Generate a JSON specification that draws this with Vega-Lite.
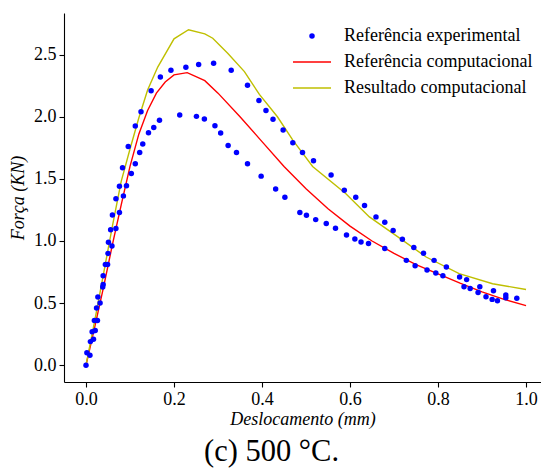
{
  "$schema": "https://vega.github.io/schema/vega-lite/v6.json",
  "width": 477,
  "height": 369,
  "autosize": {"type": "none"},
  "padding": {"left": 64, "top": 13, "right": 0, "bottom": 91},
  "background": "white",
  "config": {
    "view": {"stroke": null},
    "font": "'Liberation Serif', 'Times New Roman', Times, serif",
    "axis": {
      "grid": false,
      "domainColor": "black",
      "domainWidth": 1.1,
      "tickColor": "black",
      "tickWidth": 1.1,
      "tickSize": 5,
      "labelFont": "'Liberation Serif', 'Times New Roman', Times, serif",
      "labelFontSize": 18,
      "labelColor": "black",
      "labelPadding": 3,
      "titleFont": "'Liberation Serif', 'Times New Roman', Times, serif",
      "titleFontSize": 18,
      "titleFontStyle": "italic",
      "titleFontWeight": "normal",
      "titleColor": "black"
    }
  },
  "title": {
    "text": "(c) 500 °C.",
    "orient": "bottom",
    "font": "'Liberation Serif', 'Times New Roman', Times, serif",
    "fontSize": 30.5,
    "fontWeight": "normal",
    "color": "black",
    "offset": 9,
    "dx": -31
  },
  "data": {
    "values": [
      {"serie": "Referência experimental", "d": 0.000, "f": 0.00},
      {"serie": "Referência experimental", "d": 0.002, "f": 0.10},
      {"serie": "Referência experimental", "d": 0.009, "f": 0.08},
      {"serie": "Referência experimental", "d": 0.010, "f": 0.19},
      {"serie": "Referência experimental", "d": 0.017, "f": 0.21},
      {"serie": "Referência experimental", "d": 0.014, "f": 0.27},
      {"serie": "Referência experimental", "d": 0.021, "f": 0.28},
      {"serie": "Referência experimental", "d": 0.019, "f": 0.36},
      {"serie": "Referência experimental", "d": 0.026, "f": 0.36},
      {"serie": "Referência experimental", "d": 0.024, "f": 0.46},
      {"serie": "Referência experimental", "d": 0.032, "f": 0.50},
      {"serie": "Referência experimental", "d": 0.027, "f": 0.55},
      {"serie": "Referência experimental", "d": 0.038, "f": 0.63},
      {"serie": "Referência experimental", "d": 0.039, "f": 0.65},
      {"serie": "Referência experimental", "d": 0.039, "f": 0.72},
      {"serie": "Referência experimental", "d": 0.044, "f": 0.81},
      {"serie": "Referência experimental", "d": 0.049, "f": 0.81},
      {"serie": "Referência experimental", "d": 0.050, "f": 0.90},
      {"serie": "Referência experimental", "d": 0.051, "f": 0.99},
      {"serie": "Referência experimental", "d": 0.059, "f": 0.96},
      {"serie": "Referência experimental", "d": 0.056, "f": 1.09},
      {"serie": "Referência experimental", "d": 0.068, "f": 1.10},
      {"serie": "Referência experimental", "d": 0.060, "f": 1.21},
      {"serie": "Referência experimental", "d": 0.068, "f": 1.34},
      {"serie": "Referência experimental", "d": 0.076, "f": 1.44},
      {"serie": "Referência experimental", "d": 0.083, "f": 1.59},
      {"serie": "Referência experimental", "d": 0.096, "f": 1.76},
      {"serie": "Referência experimental", "d": 0.112, "f": 1.925},
      {"serie": "Referência experimental", "d": 0.125, "f": 2.04},
      {"serie": "Referência experimental", "d": 0.148, "f": 2.21},
      {"serie": "Referência experimental", "d": 0.169, "f": 2.32},
      {"serie": "Referência experimental", "d": 0.193, "f": 2.374},
      {"serie": "Referência experimental", "d": 0.227, "f": 2.398},
      {"serie": "Referência experimental", "d": 0.256, "f": 2.42},
      {"serie": "Referência experimental", "d": 0.290, "f": 2.43},
      {"serie": "Referência experimental", "d": 0.330, "f": 2.374},
      {"serie": "Referência experimental", "d": 0.367, "f": 2.253},
      {"serie": "Referência experimental", "d": 0.393, "f": 2.13},
      {"serie": "Referência experimental", "d": 0.409, "f": 2.05},
      {"serie": "Referência experimental", "d": 0.425, "f": 1.98},
      {"serie": "Referência experimental", "d": 0.448, "f": 1.893},
      {"serie": "Referência experimental", "d": 0.470, "f": 1.79},
      {"serie": "Referência experimental", "d": 0.492, "f": 1.713},
      {"serie": "Referência experimental", "d": 0.517, "f": 1.645},
      {"serie": "Referência experimental", "d": 0.557, "f": 1.532},
      {"serie": "Referência experimental", "d": 0.587, "f": 1.409},
      {"serie": "Referência experimental", "d": 0.613, "f": 1.352},
      {"serie": "Referência experimental", "d": 0.633, "f": 1.285},
      {"serie": "Referência experimental", "d": 0.659, "f": 1.194},
      {"serie": "Referência experimental", "d": 0.679, "f": 1.151},
      {"serie": "Referência experimental", "d": 0.698, "f": 1.084},
      {"serie": "Referência experimental", "d": 0.719, "f": 1.014},
      {"serie": "Referência experimental", "d": 0.745, "f": 0.947},
      {"serie": "Referência experimental", "d": 0.767, "f": 0.901},
      {"serie": "Referência experimental", "d": 0.791, "f": 0.844},
      {"serie": "Referência experimental", "d": 0.819, "f": 0.790},
      {"serie": "Referência experimental", "d": 0.849, "f": 0.710},
      {"serie": "Referência experimental", "d": 0.865, "f": 0.689},
      {"serie": "Referência experimental", "d": 0.895, "f": 0.632},
      {"serie": "Referência experimental", "d": 0.926, "f": 0.600},
      {"serie": "Referência experimental", "d": 0.954, "f": 0.565},
      {"serie": "Referência experimental", "d": 0.076, "f": 1.229},
      {"serie": "Referência experimental", "d": 0.085, "f": 1.363},
      {"serie": "Referência experimental", "d": 0.092, "f": 1.444},
      {"serie": "Referência experimental", "d": 0.103, "f": 1.543},
      {"serie": "Referência experimental", "d": 0.112, "f": 1.621},
      {"serie": "Referência experimental", "d": 0.122, "f": 1.713},
      {"serie": "Referência experimental", "d": 0.129, "f": 1.78},
      {"serie": "Referência experimental", "d": 0.142, "f": 1.871},
      {"serie": "Referência experimental", "d": 0.154, "f": 1.914},
      {"serie": "Referência experimental", "d": 0.167, "f": 1.971},
      {"serie": "Referência experimental", "d": 0.213, "f": 2.014},
      {"serie": "Referência experimental", "d": 0.251, "f": 2.003},
      {"serie": "Referência experimental", "d": 0.269, "f": 1.981},
      {"serie": "Referência experimental", "d": 0.293, "f": 1.927},
      {"serie": "Referência experimental", "d": 0.306, "f": 1.869},
      {"serie": "Referência experimental", "d": 0.323, "f": 1.769},
      {"serie": "Referência experimental", "d": 0.342, "f": 1.713},
      {"serie": "Referência experimental", "d": 0.367, "f": 1.621},
      {"serie": "Referência experimental", "d": 0.398, "f": 1.522},
      {"serie": "Referência experimental", "d": 0.431, "f": 1.419},
      {"serie": "Referência experimental", "d": 0.452, "f": 1.352},
      {"serie": "Referência experimental", "d": 0.486, "f": 1.229},
      {"serie": "Referência experimental", "d": 0.501, "f": 1.207},
      {"serie": "Referência experimental", "d": 0.522, "f": 1.172},
      {"serie": "Referência experimental", "d": 0.546, "f": 1.140},
      {"serie": "Referência experimental", "d": 0.567, "f": 1.102},
      {"serie": "Referência experimental", "d": 0.592, "f": 1.048},
      {"serie": "Referência experimental", "d": 0.611, "f": 1.016},
      {"serie": "Referência experimental", "d": 0.625, "f": 0.992},
      {"serie": "Referência experimental", "d": 0.642, "f": 0.979},
      {"serie": "Referência experimental", "d": 0.679, "f": 0.939},
      {"serie": "Referência experimental", "d": 0.728, "f": 0.844},
      {"serie": "Referência experimental", "d": 0.748, "f": 0.801},
      {"serie": "Referência experimental", "d": 0.775, "f": 0.766},
      {"serie": "Referência experimental", "d": 0.795, "f": 0.742},
      {"serie": "Referência experimental", "d": 0.811, "f": 0.721},
      {"serie": "Referência experimental", "d": 0.859, "f": 0.632},
      {"serie": "Referência experimental", "d": 0.873, "f": 0.618},
      {"serie": "Referência experimental", "d": 0.891, "f": 0.586},
      {"serie": "Referência experimental", "d": 0.909, "f": 0.551},
      {"serie": "Referência experimental", "d": 0.923, "f": 0.530},
      {"serie": "Referência experimental", "d": 0.935, "f": 0.519},
      {"serie": "Referência experimental", "d": 0.954, "f": 0.544},
      {"serie": "Referência experimental", "d": 0.979, "f": 0.540},
      {"serie": "Referência computacional", "d": 0.00, "f": 0.00},
      {"serie": "Referência computacional", "d": 0.02, "f": 0.31},
      {"serie": "Referência computacional", "d": 0.04, "f": 0.63},
      {"serie": "Referência computacional", "d": 0.06, "f": 0.97},
      {"serie": "Referência computacional", "d": 0.08, "f": 1.29},
      {"serie": "Referência computacional", "d": 0.10, "f": 1.60},
      {"serie": "Referência computacional", "d": 0.12, "f": 1.86},
      {"serie": "Referência computacional", "d": 0.14, "f": 2.05},
      {"serie": "Referência computacional", "d": 0.16, "f": 2.19},
      {"serie": "Referência computacional", "d": 0.18, "f": 2.28},
      {"serie": "Referência computacional", "d": 0.20, "f": 2.337},
      {"serie": "Referência computacional", "d": 0.23, "f": 2.355},
      {"serie": "Referência computacional", "d": 0.27, "f": 2.29},
      {"serie": "Referência computacional", "d": 0.30, "f": 2.19},
      {"serie": "Referência computacional", "d": 0.35, "f": 2.00},
      {"serie": "Referência computacional", "d": 0.40, "f": 1.80},
      {"serie": "Referência computacional", "d": 0.45, "f": 1.60},
      {"serie": "Referência computacional", "d": 0.50, "f": 1.42},
      {"serie": "Referência computacional", "d": 0.55, "f": 1.26},
      {"serie": "Referência computacional", "d": 0.60, "f": 1.12},
      {"serie": "Referência computacional", "d": 0.65, "f": 1.00},
      {"serie": "Referência computacional", "d": 0.70, "f": 0.90},
      {"serie": "Referência computacional", "d": 0.75, "f": 0.81},
      {"serie": "Referência computacional", "d": 0.80, "f": 0.735},
      {"serie": "Referência computacional", "d": 0.85, "f": 0.66},
      {"serie": "Referência computacional", "d": 0.90, "f": 0.59},
      {"serie": "Referência computacional", "d": 0.95, "f": 0.53},
      {"serie": "Referência computacional", "d": 1.00, "f": 0.48},
      {"serie": "Resultado computacional", "d": 0.00, "f": 0.00},
      {"serie": "Resultado computacional", "d": 0.02, "f": 0.36},
      {"serie": "Resultado computacional", "d": 0.04, "f": 0.74},
      {"serie": "Resultado computacional", "d": 0.06, "f": 1.12},
      {"serie": "Resultado computacional", "d": 0.08, "f": 1.48},
      {"serie": "Resultado computacional", "d": 0.10, "f": 1.74},
      {"serie": "Resultado computacional", "d": 0.12, "f": 1.99},
      {"serie": "Resultado computacional", "d": 0.14, "f": 2.215},
      {"serie": "Resultado computacional", "d": 0.163, "f": 2.40},
      {"serie": "Resultado computacional", "d": 0.20, "f": 2.627},
      {"serie": "Resultado computacional", "d": 0.233, "f": 2.70},
      {"serie": "Resultado computacional", "d": 0.27, "f": 2.667},
      {"serie": "Resultado computacional", "d": 0.288, "f": 2.632},
      {"serie": "Resultado computacional", "d": 0.322, "f": 2.511},
      {"serie": "Resultado computacional", "d": 0.36, "f": 2.363},
      {"serie": "Resultado computacional", "d": 0.394, "f": 2.18},
      {"serie": "Resultado computacional", "d": 0.435, "f": 2.00},
      {"serie": "Resultado computacional", "d": 0.47, "f": 1.812},
      {"serie": "Resultado computacional", "d": 0.515, "f": 1.60},
      {"serie": "Resultado computacional", "d": 0.59, "f": 1.382},
      {"serie": "Resultado computacional", "d": 0.644, "f": 1.194},
      {"serie": "Resultado computacional", "d": 0.712, "f": 1.025},
      {"serie": "Resultado computacional", "d": 0.773, "f": 0.871},
      {"serie": "Resultado computacional", "d": 0.848, "f": 0.737},
      {"serie": "Resultado computacional", "d": 0.924, "f": 0.656},
      {"serie": "Resultado computacional", "d": 1.00, "f": 0.61}
    ]
  },
  "encoding": {
    "x": {
      "field": "d",
      "type": "quantitative",
      "scale": {"domain": [-0.05, 1.034], "nice": false, "zero": false},
      "axis": {"values": [0, 0.2, 0.4, 0.6, 0.8, 1.0], "format": ".1f", "title": "Deslocamento (mm)", "titlePadding": 2}
    },
    "y": {
      "field": "f",
      "type": "quantitative",
      "scale": {"domain": [-0.135, 2.835], "nice": false, "zero": false},
      "axis": {"values": [0, 0.5, 1.0, 1.5, 2.0, 2.5], "format": ".1f", "title": "Força (KN)", "titlePadding": 6}
    },
    "color": {
      "field": "serie",
      "type": "nominal",
      "scale": {
        "domain": ["Referência experimental", "Referência computacional", "Resultado computacional"],
        "range": ["#0000ff", "#ff0000", "#bfbf00"]
      },
      "legend": {
        "orient": "none",
        "legendX": 239,
        "legendY": 14,
        "title": null,
        "padding": 0,
        "labelFont": "'Liberation Serif', 'Times New Roman', Times, serif",
        "labelFontSize": 18,
        "labelColor": "black",
        "labelLimit": 400,
        "labelOffset": 23,
        "rowPadding": 8,
        "symbolSize": 1444,
        "symbolType": "stroke",
        "symbolStrokeWidth": 1.5,
        "encode": {
          "symbols": {
            "update": {
              "shape": {"signal": "datum.value === 'Referência experimental' ? 'circle' : 'stroke'"},
              "size": {"signal": "datum.value === 'Referência experimental' ? 30 : 1444"},
              "fill": {"signal": "datum.value === 'Referência experimental' ? '#0000ff' : 'transparent'"},
              "stroke": {"scale": "color", "field": "value"},
              "strokeWidth": {"signal": "datum.value === 'Referência experimental' ? 0 : 1.5"},
              "opacity": {"value": 1}
            }
          }
        }
      }
    }
  },
  "layer": [
    {
      "transform": [{"filter": "datum.serie !== 'Referência experimental'"}],
      "mark": {"type": "line", "strokeWidth": 1.4}
    },
    {
      "transform": [{"filter": "datum.serie === 'Referência experimental'"}],
      "mark": {"type": "point", "filled": true, "size": 30, "opacity": 1}
    },
    {
      "data": {"values": [{}]},
      "mark": {"type": "rule", "color": "black", "strokeWidth": 1.1},
      "encoding": {"y": {"datum": 2.835}, "color": {"value": "black"}}
    }
  ]
}
